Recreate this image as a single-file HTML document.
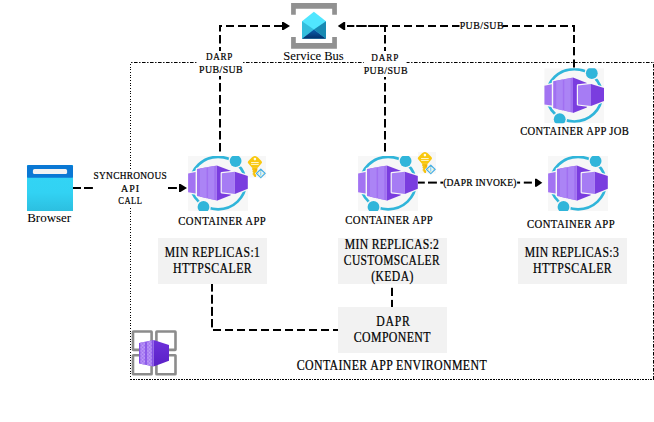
<!DOCTYPE html>
<html><head><meta charset="utf-8"><style>
html,body{margin:0;padding:0;background:#fff;width:654px;height:422px;overflow:hidden}
svg{display:block}
text{font-family:"Liberation Serif",serif;fill:#000;stroke:#000;stroke-width:0.15px}
</style></head><body>
<svg width="654" height="422" viewBox="0 0 654 422">

<defs>
<clipPath id="cac"><rect x="0" y="0" width="60" height="55"/></clipPath>
<g id="ca" clip-path="url(#cac)">
  <rect x="0" y="0" width="60" height="55" fill="#f7f7f7"/>
  <ellipse cx="30.1" cy="27.1" rx="27.5" ry="26.2" fill="none" stroke="#30b5da" stroke-width="2.7"/>
  <circle cx="47.6" cy="5" r="7.3" fill="#f7f7f7"/>
  <circle cx="15.5" cy="51" r="7.3" fill="#f7f7f7"/>
  <circle cx="47.6" cy="5" r="5.9" fill="#30b5da"/>
  <circle cx="15.5" cy="51" r="5.9" fill="#30b5da"/>
  <g fill="#f7f7f7" stroke="#f7f7f7" stroke-width="2.6" stroke-linejoin="round">
    <polygon points="0.1,17.6 7.6,16.1 7.6,37.4 0.1,36.3"/>
    <polygon points="9,13 28.8,9.4 42.7,14.7 42.7,39.2 29,44.8 9,39.9"/>
  </g>
  <polygon points="0.1,17.6 7.6,16.1 7.6,37.4 0.1,36.3" fill="#a273f2"/>
  <polygon points="9,13 28.8,9.4 28.8,44.6 9,39.9" fill="#a070f1"/>
  <polygon points="12,12.5 18.6,11.3 18.6,42.2 12,40.6" fill="#ab84f5"/>
  <polygon points="20.1,11.1 26.3,10 26.3,43.8 20.1,42.4" fill="#ab84f5"/>
  <polygon points="28.8,9.4 42.7,14.7 42.7,39.2 28.8,44.8" fill="#7a3ddf"/>
  <polygon points="33.8,17.2 46.8,15.7 59.8,19.9 59.8,32.7 46.8,37.9 33.8,36.2" fill="#f7f7f7" stroke="#f7f7f7" stroke-width="2.4" stroke-linejoin="round"/>
  <polygon points="33.8,17.2 46.8,15.7 46.8,37.9 33.8,36.2" fill="#a67cf4"/>
  <polygon points="46.8,15.7 59.8,19.9 59.8,32.7 46.8,37.9" fill="#7a3ddf"/>
</g>
<g id="key">
  <rect x="0" y="0" width="18" height="21.5" fill="#f7f7f7"/>
  <path d="M6.9,0 C8.4,0 9.5,1 10.5,2 L13.4,5 C14.2,5.8 14.2,6.8 13.4,7.6 L9.8,11.8 L4,11.8 L0.4,7.6 C-0.4,6.8 -0.4,5.8 0.4,5 L3.3,2 C4.3,1 5.4,0 6.9,0 Z" fill="#f9c80e"/>
  <path d="M4.2,11.5 L9.4,11.5 L9.4,13.5 L7.9,20.9 L6.8,20.9 L5.5,19.7 L5.5,18.7 L4.1,18 L5.3,17.2 L5.3,16.4 L4.1,15.7 L5.3,14.9 L4.2,14 Z" fill="#f5c10c"/>
  <path d="M7.4,13 L8.6,13 L8,16.2 Z" fill="#ee9f12"/>
  <circle cx="6.9" cy="3.1" r="1.3" fill="#fffbe8"/>
  <rect x="3.1" y="6" width="7.6" height="1" fill="#fff5c8"/>
  <rect x="3.1" y="7.9" width="7.6" height="1" fill="#fff5c8"/>
  <path d="M12.8,11.6 L18.8,17.4 L12.8,23.2 L6.8,17.4 Z" fill="#f7f7f7"/>
  <path d="M12.8,13.2 L17.2,17.4 L12.8,21.6 L8.4,17.4 Z" fill="#e4f5fc" stroke="#45ade6" stroke-width="1.2" stroke-linejoin="round"/>
  <rect x="12.4" y="15.2" width="0.8" height="4.4" fill="#5bb8ea"/>
  <g fill="#eeea90"><circle cx="12.8" cy="15" r="0.6"/><circle cx="12.8" cy="19.9" r="0.6"/><circle cx="10.3" cy="17.4" r="0.6"/><circle cx="15.3" cy="17.4" r="0.6"/></g>
</g>
</defs>

<!-- environment border -->
<line x1="131" y1="62.5" x2="654" y2="62.5" stroke="#000" stroke-width="1" stroke-dasharray="3.6 1.5 1.4 1.5" stroke-dashoffset="5"/>
<line x1="130.5" y1="63" x2="130.5" y2="380" stroke="#000" stroke-width="1" stroke-dasharray="1 1 1 2 1 2" stroke-dashoffset="4"/>
<line x1="653.5" y1="62" x2="653.5" y2="380" stroke="#000" stroke-width="1" stroke-dasharray="3.6 1.5 1.4 1.5" stroke-dashoffset="6"/>
<line x1="131" y1="379.5" x2="654" y2="379.5" stroke="#000" stroke-width="1" stroke-dasharray="2 1 2 1 1 1" stroke-dashoffset="1"/>

<!-- connectors -->
<g fill="#000">
<rect x="219" y="25" width="3" height="2"/><rect x="226" y="25" width="8" height="2"/><rect x="238" y="25" width="8" height="2"/><rect x="250" y="25" width="8" height="2"/><rect x="262" y="25" width="8" height="2"/><rect x="274" y="25" width="8" height="2"/>
<rect x="347" y="25" width="7.3" height="2"/><rect x="356.2" y="25" width="10.5" height="2"/><rect x="368.1" y="25" width="11.0" height="2"/><rect x="380" y="25" width="7.8" height="2"/><rect x="392" y="25" width="8" height="2"/><rect x="404" y="25" width="8" height="2"/><rect x="416" y="25" width="8" height="2"/><rect x="428" y="25" width="8" height="2"/><rect x="440" y="25" width="8" height="2"/><rect x="452" y="25" width="7.5" height="2"/><rect x="502.4" y="25" width="5.6" height="2"/><rect x="512" y="25" width="8" height="2"/><rect x="524" y="25" width="8" height="2"/><rect x="536" y="25" width="8" height="2"/><rect x="548" y="25" width="8" height="2"/><rect x="560" y="25" width="8" height="2"/><rect x="572" y="25" width="3" height="2"/>
<rect x="219" y="25" width="2" height="6.5"/><rect x="219" y="35" width="2" height="8.5"/><rect x="219" y="47" width="2" height="4"/><rect x="219" y="76" width="2" height="3.5"/><rect x="219" y="83" width="2" height="8.5"/><rect x="219" y="95" width="2" height="8.5"/><rect x="219" y="107" width="2" height="8.5"/><rect x="219" y="119" width="2" height="8.5"/><rect x="219" y="131" width="2" height="8.5"/><rect x="219" y="143" width="2" height="8.5"/>
<rect x="384" y="25" width="2" height="7"/><rect x="384" y="35" width="2" height="8.5"/><rect x="384" y="47" width="2" height="4"/><rect x="384" y="77" width="2" height="2.5"/><rect x="384" y="83" width="2" height="8.5"/><rect x="384" y="95" width="2" height="8.5"/><rect x="384" y="107" width="2" height="8.5"/><rect x="384" y="119" width="2" height="8.5"/><rect x="384" y="131" width="2" height="8.5"/><rect x="384" y="143" width="2" height="8.5"/>
<rect x="573" y="25" width="2" height="6.8"/><rect x="573" y="35" width="2" height="8"/><rect x="573" y="47" width="2" height="8.3"/><rect x="573" y="59.5" width="2" height="8.0"/>
<rect x="73" y="187" width="8" height="2"/><rect x="84" y="187" width="8.9" height="2"/><rect x="168" y="187" width="8.9" height="2"/>
<rect x="416.5" y="181.6" width="8.3" height="2.0"/><rect x="428" y="181.6" width="8.9" height="2.0"/><rect x="440.4" y="181.6" width="2.6" height="2.0"/><rect x="517.1" y="181.6" width="3.0" height="2.0"/><rect x="523.8" y="181.6" width="8.1" height="2.0"/>
<rect x="211" y="284" width="2" height="7.6"/><rect x="211" y="294.8" width="2" height="8.9"/><rect x="211" y="306.9" width="2" height="9.0"/><rect x="211" y="319" width="2" height="8.4"/>
<rect x="213" y="329" width="8" height="2"/><rect x="225" y="329" width="8" height="2"/><rect x="237" y="329" width="8" height="2"/><rect x="249" y="329" width="8" height="2"/><rect x="261" y="329" width="8" height="2"/><rect x="273" y="329" width="8" height="2"/><rect x="285" y="329" width="8" height="2"/><rect x="297" y="329" width="8" height="2"/><rect x="309" y="329" width="8" height="2"/><rect x="321" y="329" width="8" height="2"/><rect x="333" y="329" width="5" height="2"/>
<rect x="391" y="287.8" width="2" height="8.2"/><rect x="391" y="299.9" width="2" height="7.1"/>
</g>
<!-- arrowheads -->
<g fill="#000">
  <path d="M282,22 L283.5,22 L290,26 L283.5,30 L282,30 Z"/>
  <path d="M345.2,22 L343.7,22 L337.8,26 L343.7,30 L345.2,30 Z"/>
  <path d="M179,184 L180.5,184 L187,188 L180.5,192 L179,192 Z"/>
  <path d="M535,178.7 L536.5,178.7 L542.3,182.7 L536.5,186.7 L535,186.7 Z"/>
</g>

<!-- Service bus icon -->
<g>
  <path d="M291.1,3.1 H336.9 V14.7 H332.2 V8.8 H295.8 V14.7 H291.1 Z" fill="#919191"/>
  <path d="M291.1,37 H295.8 V43.1 H332.2 V37 H336.9 V48.8 H291.1 Z" fill="#919191"/>
  <path d="M302,21.3 L313.9,11.8 L326,21.3 L326,38.8 L302,38.8 Z" fill="#50e6ff"/>
  <path d="M302,21.3 L313.9,29.6 L302,38.8 Z" fill="#32bedd"/>
  <path d="M326,21.3 L313.9,29.6 L326,38.8 Z" fill="#198ab3"/>
  <linearGradient id="sbg" gradientUnits="userSpaceOnUse" x1="0" y1="29.6" x2="0" y2="38.8"><stop offset="0" stop-color="#0b5eac"/><stop offset="1" stop-color="#022f6a"/></linearGradient>
  <path d="M302,38.8 L313.9,29.6 L326,38.8 Z" fill="url(#sbg)"/>
</g>

<!-- label backgrounds -->
<rect x="196.8" y="51" width="46" height="25" fill="#fff"/>
<rect x="363.8" y="51" width="42.8" height="25" fill="#fff"/>
<rect x="93" y="169" width="75" height="39" fill="#fff"/>


<!-- Browser icon -->
<linearGradient id="brg" x1="0" y1="0" x2="0" y2="1"><stop offset="0" stop-color="#33d5f6"/><stop offset="0.6" stop-color="#32d2f3"/><stop offset="1" stop-color="#2cbfe0"/></linearGradient>
<rect x="27" y="165" width="46" height="46" fill="url(#brg)"/>
<rect x="27" y="165" width="46" height="12.5" rx="1.5" fill="#0a78d4"/>
<rect x="27" y="172" width="46" height="5.5" fill="#0a78d4"/>
<rect x="32.9" y="169.1" width="34.2" height="5" rx="1.6" fill="#f2f2f2"/>


<!-- Container apps -->
<use href="#ca" x="188" y="156"/>
<use href="#key" x="248" y="156"/>
<use href="#ca" x="358" y="156"/>
<use href="#key" x="418" y="152"/>
<use href="#ca" x="548" y="156"/>
<use href="#ca" x="544.2" y="68.2"/>



<!-- gray boxes -->
<rect x="158" y="238" width="109" height="46" fill="#f2f2f2"/>
<rect x="338" y="238" width="109" height="46" fill="#f2f2f2"/>
<rect x="518" y="238" width="109" height="46" fill="#f2f2f2"/>
<rect x="338" y="307" width="109" height="46" fill="#f2f2f2"/>


<!-- environment icon -->
<g fill="none" stroke="#8c8c8c" stroke-width="2.6">
  <rect x="133" y="331.5" width="18.6" height="18.4" rx="0.4"/>
  <rect x="156.4" y="331.5" width="19.1" height="18.4" rx="0.4"/>
  <rect x="133" y="355.2" width="18.6" height="19.1" rx="0.4"/>
  <rect x="156.4" y="355.2" width="19.1" height="19.1" rx="0.4"/>
</g>
<defs><pattern id="dith" width="1.4" height="1.4" patternUnits="userSpaceOnUse"><rect width="1.4" height="1.4" fill="#9a68ee"/><rect width="0.7" height="0.7" fill="#c4a6f9"/><rect x="0.7" y="0.7" width="0.7" height="0.7" fill="#c4a6f9"/></pattern>
<linearGradient id="envr" x1="0" y1="0" x2="0" y2="1"><stop offset="0" stop-color="#6d31da"/><stop offset="1" stop-color="#5a20c6"/></linearGradient></defs>
<polygon points="139,343 153.6,340 153.6,366.5 139,363.5" fill="#8450e6"/>
<polygon points="140.3,342.8 145.2,341.8 145.2,364.8 140.3,363.8" fill="url(#dith)"/>
<polygon points="146.8,341.5 151.8,340.4 151.8,366 146.8,365.1" fill="url(#dith)"/>
<polygon points="153.6,340 169,345 169,360.7 153.6,366.5" fill="url(#envr)"/>

<text x="283.38" y="59.80" font-size="11.8" textLength="60.39" lengthAdjust="spacingAndGlyphs" style="stroke-width:0.05px">Service Bus</text>
<text transform="translate(205.88,60.00) scale(0.852,1)" x="0" y="0" font-size="10.69" textLength="30.94" lengthAdjust="spacing" style="stroke-width:0.22px">DARP</text>
<text transform="translate(199.04,73.00) scale(0.926,1)" x="0" y="0" font-size="10.69" textLength="47.13" lengthAdjust="spacing" style="stroke-width:0.22px">PUB/SUB</text>
<text transform="translate(371.35,61.00) scale(0.852,1)" x="0" y="0" font-size="10.69" textLength="31.61" lengthAdjust="spacing" style="stroke-width:0.22px">DARP</text>
<text transform="translate(363.66,74.00) scale(0.926,1)" x="0" y="0" font-size="10.69" textLength="47.42" lengthAdjust="spacing" style="stroke-width:0.22px">PUB/SUB</text>
<text transform="translate(459.66,29.00) scale(0.926,1)" x="0" y="0" font-size="10.69" textLength="47.39" lengthAdjust="spacing" style="stroke-width:0.22px">PUB/SUB</text>
<text x="27.19" y="222.00" font-size="12.2" textLength="43.98" lengthAdjust="spacingAndGlyphs" style="stroke-width:0.05px">Browser</text>
<text transform="translate(93.55,179.00) scale(0.874,1)" x="0" y="0" font-size="10.69" textLength="83.60" lengthAdjust="spacing" style="stroke-width:0.22px">SYNCHRONOUS</text>
<text transform="translate(121.03,192.00) scale(0.927,1)" x="0" y="0" font-size="10.69" textLength="19.32" lengthAdjust="spacing" style="stroke-width:0.22px">API</text>
<text transform="translate(118.33,204.00) scale(0.797,1)" x="0" y="0" font-size="10.69" textLength="29.68" lengthAdjust="spacing" style="stroke-width:0.22px">CALL</text>
<text transform="translate(178.35,225.00) scale(0.875,1)" x="0" y="0" font-size="12.22" textLength="99.92" lengthAdjust="spacing" style="stroke-width:0.22px">CONTAINER APP</text>
<text transform="translate(345.35,224.00) scale(0.875,1)" x="0" y="0" font-size="12.22" textLength="99.92" lengthAdjust="spacing" style="stroke-width:0.22px">CONTAINER APP</text>
<text transform="translate(526.97,228.00) scale(0.875,1)" x="0" y="0" font-size="12.22" textLength="100.28" lengthAdjust="spacing" style="stroke-width:0.22px">CONTAINER APP</text>
<text transform="translate(520.19,135.00) scale(0.866,1)" x="0" y="0" font-size="12.22" textLength="125.52" lengthAdjust="spacing" style="stroke-width:0.22px">CONTAINER APP JOB</text>
<text transform="translate(443.13,186.00) scale(0.894,1)" x="0" y="0" font-size="10.69" textLength="82.00" lengthAdjust="spacing" style="stroke-width:0.22px">(DAPR INVOKE)</text>
<text transform="translate(164.85,257.00) scale(0.851,1)" x="0" y="0" font-size="13.74" textLength="111.67" lengthAdjust="spacing" style="stroke-width:0.22px">MIN REPLICAS:1</text>
<text transform="translate(172.96,273.00) scale(0.864,1)" x="0" y="0" font-size="13.74" textLength="91.15" lengthAdjust="spacing" style="stroke-width:0.22px">HTTPSCALER</text>
<text transform="translate(344.85,249.00) scale(0.851,1)" x="0" y="0" font-size="13.74" textLength="110.46" lengthAdjust="spacing" style="stroke-width:0.22px">MIN REPLICAS:2</text>
<text transform="translate(343.84,265.00) scale(0.836,1)" x="0" y="0" font-size="13.74" textLength="114.64" lengthAdjust="spacing" style="stroke-width:0.22px">CUSTOMSCALER</text>
<text transform="translate(371.13,281.00) scale(0.847,1)" x="0" y="0" font-size="13.74" textLength="49.91" lengthAdjust="spacing" style="stroke-width:0.22px">(KEDA)</text>
<text transform="translate(524.85,257.00) scale(0.851,1)" x="0" y="0" font-size="13.74" textLength="110.37" lengthAdjust="spacing" style="stroke-width:0.22px">MIN REPLICAS:3</text>
<text transform="translate(532.96,273.00) scale(0.864,1)" x="0" y="0" font-size="13.74" textLength="91.15" lengthAdjust="spacing" style="stroke-width:0.22px">HTTPSCALER</text>
<text transform="translate(376.22,326.00) scale(0.855,1)" x="0" y="0" font-size="13.74" textLength="39.29" lengthAdjust="spacing" style="stroke-width:0.22px">DAPR</text>
<text transform="translate(353.81,342.00) scale(0.863,1)" x="0" y="0" font-size="13.74" textLength="88.77" lengthAdjust="spacing" style="stroke-width:0.22px">COMPONENT</text>
<text transform="translate(296.81,370.00) scale(0.865,1)" x="0" y="0" font-size="13.74" textLength="219.45" lengthAdjust="spacing" style="stroke-width:0.22px">CONTAINER APP ENVIRONMENT</text>
</svg>
</body></html>
